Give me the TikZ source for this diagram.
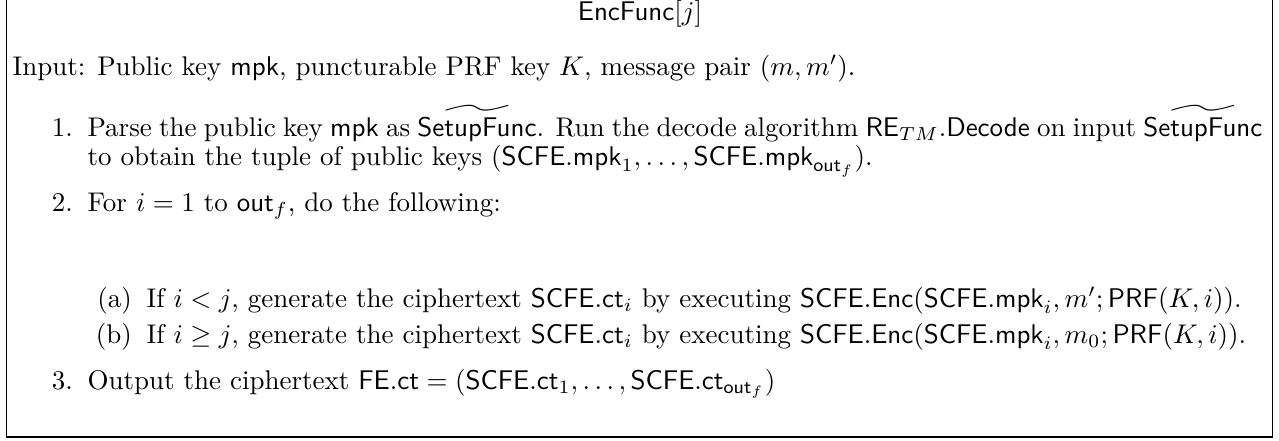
\documentclass[tikz,border=0pt]{standalone}
\usepackage{amsmath}
\usepackage{amsfonts}
\usepackage{amssymb}

\newcommand{\mpk}{\mathsf{mpk}}
\newcommand{\outf}{\mathsf{out}_f}
\newcommand{\sfn}[1]{\mathsf{#1}}

\begin{document}
\begin{tikzpicture}[x=0.3704pt,y=-0.3704pt,
                txt/.style={anchor=base west, inner sep=0pt},
                lbl/.style={anchor=base east, inner sep=0pt}]
                \useasboundingbox (0,0) rectangle (1279,440);
                \draw[line width=0.4pt] (6.5,-20) rectangle (1272.5,437);

                \node[anchor=base, inner sep=0pt] (title) at (640,20) {$\sfn{EncFunc}[j]$};

                \node[txt] (in) at (12,75) {Input: Public key $\mpk$, puncturable PRF key $K$, message pair $(m,m')$.};

                \node[lbl] (l1) at (73.5,136) {1.};
                \node[txt] (s1a) at (87,136) {\makebox[435.2pt][s]{Parse the public key $\mpk$ as $\widetilde{\sfn{SetupFunc}}$. Run the decode algorithm $\sfn{RE}_{TM}.\sfn{Decode}$ on input $\widetilde{\sfn{SetupFunc}}$}};
                \node[txt] (s1b) at (87,165) {to obtain the tuple of public keys $(\sfn{SCFE}.\mpk_1,\ldots,\sfn{SCFE}.\mpk_{\outf})$.};

                \node[lbl] (l2) at (73.5,211) {2.};
                \node[txt] (s2) at (87,211) {For $i=1$ to $\outf$, do the following:};

                \node[lbl] (la) at (132.5,307) {(a)};
                \node[txt] (sa) at (146,307) {If $i<j$, generate the ciphertext $\sfn{SCFE}.\sfn{ct}_i$ by executing $\sfn{SCFE}.\sfn{Enc}(\sfn{SCFE}.\mpk_i,m';\sfn{PRF}(K,i))$.};
                \node[lbl] (lb) at (132.5,343) {(b)};
                \node[txt] (sb) at (146,343) {If $i\geq j$, generate the ciphertext $\sfn{SCFE}.\sfn{ct}_i$ by executing $\sfn{SCFE}.\sfn{Enc}(\sfn{SCFE}.\mpk_i,m_0;\sfn{PRF}(K,i))$.};

                \node[lbl] (l3) at (73.5,389) {3.};
                \node[txt] (s3) at (87,389) {Output the ciphertext $\sfn{FE}.\sfn{ct}=(\sfn{SCFE}.\sfn{ct}_1,\ldots,\sfn{SCFE}.\sfn{ct}_{\outf})$};
\end{tikzpicture}
\end{document}
